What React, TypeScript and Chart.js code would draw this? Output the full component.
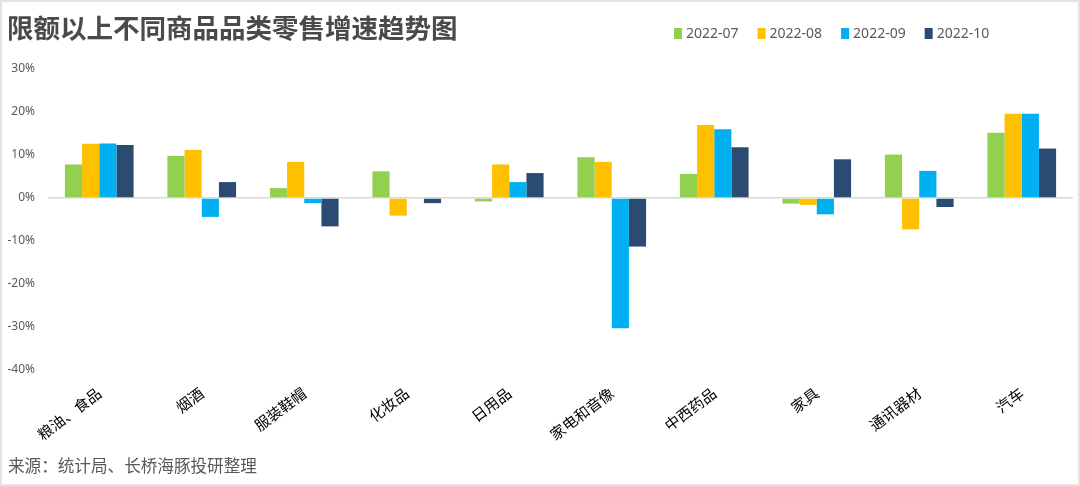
import React, { useEffect, useRef } from "react";
import { Chart, registerables } from "chart.js";

Chart.register(...registerables);

const categories = ["粮油、食品", "烟酒", "服装鞋帽", "化妆品", "日用品", "家电和音像", "中西药品", "家具", "通讯器材", "汽车"];
const seriesLabels = ["2022-07", "2022-08", "2022-09", "2022-10"];
const jul = [7.8, 9.8, 2.3, 6.2, -0.8, 9.5, 5.6, -1.3, 10.1, 15.2];
const aug = [12.6, 11.2, 8.4, -4.1, 7.8, 8.4, 17.0, -1.6, -7.3, 19.6];
const sep = [12.7, -4.4, -1.2, 0, 3.7, -30.3, 16.0, -3.8, 6.3, 19.6];
const oct = [12.3, 3.7, -6.6, -1.2, 5.8, -11.3, 11.8, 9.0, -2.1, 11.5];
const seriesValues = [jul, aug, sep, oct];
const colors = ["#92D050", "#FFC000", "#00B0F0", "#2C4B73"];
const yMin = -40;
const yMax = 30;
const yStep = 10;
const titleText = "限额以上不同商品品类零售增速趋势图";
const sourceText = "来源：统计局、长桥海豚投研整理";

const W = 1080;
const H = 486;
const CJK = '"Noto Sans CJK SC", "Noto Sans", sans-serif';

const decorPlugin = {
  id: "decor",
  afterDraw(chart: any) {
    const ctx = chart.ctx;
    ctx.save();
    // frame
    ctx.strokeStyle = "#e3e3e3";
    ctx.lineWidth = 2;
    ctx.strokeRect(1, 1, W - 2, H - 2);
    // title
    ctx.fillStyle = "#4a4a4a";
    ctx.font = "bold 26.5px " + CJK;
    ctx.textBaseline = "middle";
    ctx.textAlign = "left";
    ctx.fillText(titleText, 7, 28);
    // legend
    ctx.font = '14px "Noto Sans", sans-serif';
    let x = 674;
    const y = 34;
    chart.data.datasets.forEach((ds: any) => {
      ctx.fillStyle = ds.backgroundColor;
      ctx.fillRect(x, y - 6, 8, 11);
      ctx.fillStyle = "#595959";
      ctx.fillText(ds.label, x + 12, y);
      x += 12 + ctx.measureText(ds.label).width + 19;
    });
    // source
    ctx.font = "16.6px " + CJK;
    ctx.fillStyle = "#595959";
    ctx.fillText(sourceText, 8, 466);
    ctx.restore();
  },
};

export default function App() {
  const ref = useRef<HTMLCanvasElement | null>(null);
  useEffect(() => {
    if (!ref.current) return;
    const chart = new Chart(ref.current, {
      type: "bar",
      data: {
        labels: categories,
        datasets: seriesLabels.map((label, i) => ({
          label,
          data: seriesValues[i],
          backgroundColor: colors[i],
          borderWidth: 0,
          categoryPercentage: 0.67,
          barPercentage: 1,
        })),
      },
      options: {
        responsive: false,
        animation: false,
        layout: { padding: { left: 8, right: 7, top: 69, bottom: 0 } },
        plugins: {
          legend: { display: false },
          title: { display: false },
          tooltip: { enabled: false },
        },
        scales: {
          x: {
            grid: { display: false },
            border: { display: false },
            ticks: {
              maxRotation: 37,
              minRotation: 37,
              padding: 6,
              color: "#000",
              font: { size: 15, family: CJK },
              autoSkip: false,
            },
            afterFit(scale: any) {
              scale.height = H - 370;
            },
          },
          y: {
            min: yMin,
            max: yMax,
            ticks: {
              stepSize: yStep,
              padding: 13,
              color: "#595959",
              font: { size: 12, family: '"Noto Sans", sans-serif' },
              callback: (v: any) => v + "%",
            },
            grid: {
              drawTicks: false,
              color: (c: any) => (c.tick && c.tick.value === 0 ? "#d9d9d9" : "rgba(0,0,0,0)"),
              lineWidth: 1.5,
            },
            border: { display: false },
            afterFit(scale: any) {
              scale.width = 40;
            },
          },
        },
      },
      plugins: [decorPlugin],
    });
    return () => chart.destroy();
  }, []);
  return (
    <div style={{ position: "fixed", left: 0, top: 0, width: W, height: H, background: "#fff" }}>
      <canvas ref={ref} width={W} height={H} />
    </div>
  );
}
